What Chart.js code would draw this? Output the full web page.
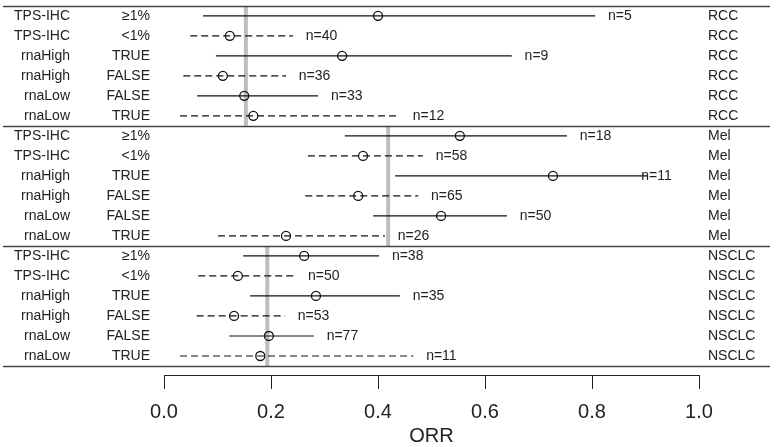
<!DOCTYPE html>
<html>
<head>
<meta charset="utf-8">
<script src="https://cdn.jsdelivr.net/npm/chart.js@4.4.1/dist/chart.umd.min.js"></script>
<style>
  body { margin: 0; background: #fff; }
  canvas { display: block; }
</style>
</head>
<body>
<canvas id="orrChart" width="778" height="447"></canvas>
<script>
// Groups and the six marker rows inside each group
const cancerTypes = ['RCC', 'Mel', 'NSCLC'];
const markerNames = ['TPS-IHC', 'TPS-IHC', 'rnaHigh', 'rnaHigh', 'rnaLow', 'rnaLow'];
const markerLevels = ['≥1%', '<1%', 'TRUE', 'FALSE', 'FALSE', 'TRUE'];
const levelDashed = [false, true, false, true, false, true];

// Overall ORR per cancer type (grey reference lines)
const overallOrr = [0.153, 0.419, 0.193];

// Per row values, RCC rows then Mel rows then NSCLC rows
const orr = [0.400, 0.123, 0.333, 0.110, 0.150, 0.167,
             0.553, 0.372, 0.727, 0.363, 0.518, 0.228,
             0.262, 0.138, 0.284, 0.131, 0.196, 0.180];
const ciLow = [0.073, 0.049, 0.097, 0.036, 0.062, 0.030,
               0.338, 0.269, 0.432, 0.264, 0.391, 0.101,
               0.148, 0.064, 0.161, 0.061, 0.122, 0.030];
const ciHigh = [0.806, 0.241, 0.650, 0.228, 0.288, 0.441,
                0.753, 0.484, 0.903, 0.475, 0.641, 0.413,
                0.402, 0.245, 0.441, 0.226, 0.280, 0.466];
const nCounts = [5, 40, 9, 36, 33, 12,
                 18, 58, 11, 65, 50, 26,
                 38, 50, 35, 53, 77, 11];

const xTicks = [0, 0.2, 0.4, 0.6, 0.8, 1.0];

const FONT = '"Liberation Sans", Arial, Helvetica, sans-serif';
const TEXT_COLOR = '#222';

// build one dataset per CI segment
const rowsPerGroup = markerNames.length;
const ciDatasets = orr.map((v, i) => ({
  type: 'scatter',
  data: [{ x: ciLow[i], y: i }, { x: ciHigh[i], y: i }],
  showLine: true,
  borderColor: '#111',
  borderWidth: 1.2,
  borderDash: levelDashed[i % rowsPerGroup] ? [7, 4] : [],
  pointRadius: 0,
  order: 2
}));

const refDatasets = overallOrr.map((v, g) => ({
  type: 'scatter',
  data: [{ x: v, y: g * rowsPerGroup - 0.5 }, { x: v, y: (g + 1) * rowsPerGroup - 0.5 }],
  showLine: true,
  borderColor: '#bdbdbd',
  borderWidth: 4,
  pointRadius: 0,
  order: 3
}));

const pointDataset = {
  type: 'scatter',
  data: orr.map((v, i) => ({ x: v, y: i })),
  pointStyle: 'circle',
  pointRadius: 4.5,
  pointBorderWidth: 1.3,
  pointBorderColor: '#111',
  pointBackgroundColor: 'rgba(0,0,0,0)',
  order: 1
};

// text columns, n labels and group separators
const forestText = {
  id: 'forestText',
  afterDatasetsDraw(chart) {
    const { ctx, scales } = chart;
    const xs = scales.x, ys = scales.y;
    ctx.save();

    // separators between groups
    ctx.strokeStyle = '#444';
    ctx.lineWidth = 1.5;
    for (let g = 0; g <= cancerTypes.length; g++) {
      const y = Math.round(ys.getPixelForValue(g * rowsPerGroup - 0.5)) + 0.5;
      ctx.beginPath();
      ctx.moveTo(3, y);
      ctx.lineTo(770, y);
      ctx.stroke();
    }

    ctx.fillStyle = TEXT_COLOR;
    ctx.font = '14px ' + FONT;
    ctx.textBaseline = 'middle';
    orr.forEach((v, i) => {
      const y = ys.getPixelForValue(i);
      const k = i % rowsPerGroup;
      ctx.textAlign = 'right';
      ctx.fillText(markerNames[k], 70, y);
      ctx.fillText(markerLevels[k], 150, y);
      ctx.textAlign = 'left';
      ctx.fillText(cancerTypes[Math.floor(i / rowsPerGroup)], 708, y);
      const labelAt = Math.min(ciHigh[i] + 0.024, 0.892);
      ctx.fillText('n=' + nCounts[i], xs.getPixelForValue(labelAt), y);
    });
    ctx.restore();
  }
};

new Chart(document.getElementById('orrChart').getContext('2d'), {
  type: 'scatter',
  data: { datasets: [pointDataset, ...ciDatasets, ...refDatasets] },
  options: {
    responsive: false,
    animation: false,
    devicePixelRatio: 1,
    layout: { padding: { left: 164, right: 79, top: 3, bottom: 0 } },
    plugins: { legend: { display: false }, tooltip: { enabled: false } },
    scales: {
      x: {
        type: 'linear',
        min: 0,
        max: 1,
        afterBuildTicks: axis => { axis.ticks = xTicks.map(v => ({ value: v })); },
        afterFit: axis => { axis.height = 72; },
        ticks: {
          callback: v => v.toFixed(1),
          font: { size: 20, family: FONT, lineHeight: 1 },
          color: TEXT_COLOR,
          padding: 13,
          maxRotation: 0
        },
        grid: { drawOnChartArea: false, drawTicks: true, tickLength: 14, color: '#222', lineWidth: 1 },
        border: { display: true, color: '#222', width: 1 },
        title: {
          display: true,
          text: 'ORR',
          font: { size: 20, family: FONT, lineHeight: 1 },
          color: TEXT_COLOR,
          padding: { top: 0, bottom: 1 }
        }
      },
      y: {
        type: 'linear',
        display: false,
        reverse: true,
        min: -0.5,
        max: 17.95
      }
    }
  },
  plugins: [forestText]
});
</script>
</body>
</html>
